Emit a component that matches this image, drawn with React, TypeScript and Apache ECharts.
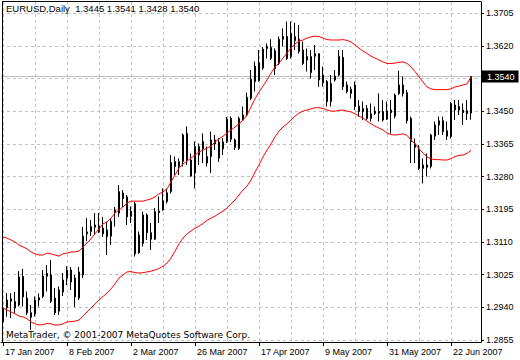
import React, { useEffect, useRef } from "react";
import * as echarts from "echarts";

const symbolName = "EURUSD,Daily";
const copyright = "MetaTrader, © 2001-2007 MetaQuotes Software Corp.";
const startDate = "2007-01-17";
const tickLabels = ["17 Jan 2007", "8 Feb 2007", "2 Mar 2007", "26 Mar 2007", "17 Apr 2007", "9 May 2007", "31 May 2007", "22 Jun 2007"];
const priceTicks = [1.2855, 1.294, 1.3025, 1.311, 1.3195, 1.328, 1.3365, 1.345, 1.3535, 1.362, 1.3705];
const hiddenPriceTick = 1.3535;
const priceMin = 1.28498;
const priceMax = 1.37338;

const opens = [
  1.2938, 1.2939, 1.2962, 1.2955, 1.2946, 1.302, 1.2964, 1.2926, 1.2923, 1.2959,
  1.2968, 1.3028, 1.3024, 1.2964, 1.293, 1.298, 1.3016, 1.3037, 1.3016, 1.2964,
  1.3024, 1.3131, 1.3137, 1.3154, 1.3136, 1.3131, 1.3141, 1.3125, 1.3193, 1.3185,
  1.3237, 1.3227, 1.3176, 1.3209, 1.3082, 1.3106, 1.318, 1.3134, 1.3117, 1.319,
  1.3193, 1.3215, 1.3241, 1.3319, 1.3306, 1.3319, 1.3392, 1.3323, 1.3289, 1.3336,
  1.3371, 1.3315, 1.3332, 1.3375, 1.337, 1.337, 1.3371, 1.3431, 1.3375, 1.3353,
  1.3427, 1.344, 1.3483, 1.3567, 1.3529, 1.3562, 1.3618, 1.3587, 1.3607, 1.3574,
  1.3644, 1.3644, 1.3592, 1.3633, 1.3605, 1.3609, 1.3592, 1.355, 1.3599, 1.3599,
  1.3544, 1.3527, 1.3475, 1.3531, 1.3544, 1.359, 1.3518, 1.3496, 1.3518, 1.3463,
  1.3449, 1.3457, 1.3431, 1.345, 1.3449, 1.3449, 1.3429, 1.3453, 1.3437, 1.3496,
  1.3518, 1.3498, 1.3431, 1.3365, 1.3349, 1.3301, 1.3304, 1.3306, 1.3385, 1.3414,
  1.3425, 1.3399, 1.3384, 1.3466, 1.3462, 1.3453, 1.3451, 1.3445,
];
const highs = [
  1.2946, 1.2977, 1.2977, 1.298, 1.3034, 1.304, 1.2981, 1.2946, 1.2968, 1.2976,
  1.3037, 1.305, 1.3063, 1.299, 1.2994, 1.3029, 1.3047, 1.3045, 1.3024, 1.3045,
  1.3149, 1.3172, 1.3167, 1.3185, 1.3185, 1.3175, 1.3162, 1.3172, 1.3201, 1.3258,
  1.3245, 1.3232, 1.3202, 1.3215, 1.3137, 1.3189, 1.3184, 1.3159, 1.3198, 1.3228,
  1.3249, 1.3249, 1.3336, 1.3332, 1.3327, 1.3392, 1.341, 1.334, 1.3371, 1.3366,
  1.3392, 1.3358, 1.3397, 1.3388, 1.338, 1.338, 1.3435, 1.3436, 1.3379, 1.3436,
  1.3462, 1.3498, 1.3557, 1.3579, 1.3609, 1.3617, 1.3626, 1.3637, 1.3613, 1.3644,
  1.3665, 1.3683, 1.3683, 1.368, 1.3674, 1.3631, 1.3613, 1.3609, 1.3622, 1.3601,
  1.3566, 1.3531, 1.3544, 1.3557, 1.3609, 1.3609, 1.3527, 1.3514, 1.3527, 1.3479,
  1.3475, 1.3466, 1.347, 1.3462, 1.3496, 1.3479, 1.3475, 1.3479, 1.3496, 1.3555,
  1.354, 1.3505, 1.3436, 1.3379, 1.3362, 1.3327, 1.334, 1.3391, 1.3423, 1.3436,
  1.3436, 1.3423, 1.3474, 1.3479, 1.3479, 1.347, 1.3479, 1.3541,
];
const lows = [
  1.2889, 1.2915, 1.2912, 1.2925, 1.2942, 1.2942, 1.292, 1.2881, 1.2916, 1.2942,
  1.2964, 1.2981, 1.2951, 1.292, 1.292, 1.2969, 1.2998, 1.2985, 1.2941, 1.2959,
  1.3016, 1.3112, 1.3125, 1.3128, 1.3133, 1.3123, 1.3076, 1.3102, 1.315, 1.3175,
  1.3201, 1.3154, 1.3159, 1.3072, 1.3079, 1.3098, 1.3115, 1.3089, 1.3115, 1.3159,
  1.3191, 1.321, 1.3236, 1.3284, 1.3284, 1.3306, 1.331, 1.328, 1.3249, 1.331,
  1.3315, 1.3306, 1.3289, 1.3349, 1.3318, 1.3336, 1.3367, 1.337, 1.3349, 1.3349,
  1.3424, 1.3436, 1.3479, 1.3501, 1.3527, 1.3557, 1.3587, 1.3583, 1.3544, 1.357,
  1.3618, 1.3583, 1.3587, 1.3609, 1.36, 1.357, 1.3553, 1.3535, 1.3557, 1.3513,
  1.3514, 1.3462, 1.3462, 1.3527, 1.354, 1.3505, 1.3496, 1.3483, 1.3453, 1.3436,
  1.3427, 1.3427, 1.3423, 1.344, 1.3423, 1.3423, 1.3427, 1.3392, 1.3431, 1.3492,
  1.3488, 1.3418, 1.3315, 1.3315, 1.3297, 1.3262, 1.328, 1.3301, 1.3375, 1.3388,
  1.3388, 1.3375, 1.3379, 1.3427, 1.344, 1.3414, 1.3427, 1.3428,
];
const closes = [
  1.2902, 1.2959, 1.2956, 1.2938, 1.3019, 1.2967, 1.2926, 1.2914, 1.2959, 1.2965,
  1.3021, 1.3021, 1.2956, 1.2926, 1.2985, 1.3011, 1.3037, 1.3006, 1.2967, 1.3032,
  1.3125, 1.3136, 1.315, 1.3148, 1.3151, 1.3146, 1.3124, 1.3164, 1.3189, 1.3241,
  1.3223, 1.3175, 1.319, 1.3079, 1.3128, 1.318, 1.3134, 1.3117, 1.3189, 1.3186,
  1.3217, 1.3238, 1.3316, 1.3306, 1.3319, 1.3388, 1.3323, 1.3281, 1.3358, 1.3358,
  1.3353, 1.3332, 1.3375, 1.3365, 1.3328, 1.3352, 1.3429, 1.3377, 1.3356, 1.3431,
  1.344, 1.3486, 1.3533, 1.3527, 1.3576, 1.3611, 1.3613, 1.3616, 1.3561, 1.3637,
  1.3637, 1.3587, 1.3652, 1.3644, 1.3637, 1.3574, 1.3583, 1.3592, 1.3593, 1.3531,
  1.3524, 1.3475, 1.3522, 1.3541, 1.3593, 1.3514, 1.3501, 1.3507, 1.3462, 1.3449,
  1.3457, 1.3431, 1.3443, 1.3444, 1.3445, 1.3427, 1.3451, 1.3446, 1.3492, 1.3518,
  1.3496, 1.3425, 1.3371, 1.3356, 1.3301, 1.331, 1.331, 1.3388, 1.3414, 1.3425,
  1.3397, 1.3385, 1.347, 1.3453, 1.3453, 1.3446, 1.3444, 1.354,
];
const upperEnvelope = [
  1.3123, 1.312, 1.3115, 1.311, 1.3102, 1.3097, 1.3092, 1.3084, 1.3079, 1.3076,
  1.3076, 1.3081, 1.3079, 1.3076, 1.3073, 1.3079, 1.3081, 1.3084, 1.3084, 1.3086,
  1.3097, 1.3107, 1.3118, 1.3131, 1.3144, 1.3157, 1.3162, 1.3172, 1.3185, 1.3193,
  1.3201, 1.3211, 1.3216, 1.3216, 1.3216, 1.3216, 1.3219, 1.3222, 1.3227, 1.3235,
  1.324, 1.3248, 1.3266, 1.3284, 1.3302, 1.3313, 1.332, 1.3328, 1.3336, 1.3344,
  1.3349, 1.3354, 1.3359, 1.337, 1.3378, 1.3385, 1.3393, 1.3401, 1.3409, 1.3417,
  1.3427, 1.344, 1.3461, 1.3482, 1.35, 1.3515, 1.3531, 1.3549, 1.3565, 1.3575,
  1.3588, 1.3601, 1.3614, 1.3625, 1.3632, 1.3635, 1.364, 1.3643, 1.3645, 1.3644,
  1.364, 1.3636, 1.3635, 1.3635, 1.3635, 1.3636, 1.3634, 1.363, 1.3622, 1.3614,
  1.3606, 1.36, 1.3593, 1.3588, 1.3583, 1.3578, 1.3574, 1.3574, 1.3575, 1.3577,
  1.3578, 1.3574, 1.3565, 1.3553, 1.3539, 1.3526, 1.3513, 1.3508, 1.3506, 1.3506,
  1.3506, 1.3506, 1.3508, 1.3513, 1.3515, 1.3518, 1.3521, 1.3539,
];
const lowerEnvelope = [
  1.2938, 1.2933, 1.2928, 1.2923, 1.2917, 1.2915, 1.291, 1.2902, 1.2897, 1.2894,
  1.2895, 1.2898, 1.2897, 1.2894, 1.2894, 1.2897, 1.2902, 1.2903, 1.2904, 1.2907,
  1.2917, 1.2928, 1.2938, 1.2949, 1.2959, 1.2968, 1.2977, 1.2988, 1.3001, 1.3016,
  1.3024, 1.3032, 1.3033, 1.303, 1.3029, 1.303, 1.3032, 1.3034, 1.3037, 1.3041,
  1.3047, 1.3055, 1.3068, 1.3086, 1.3105, 1.312, 1.3131, 1.3138, 1.3146, 1.3151,
  1.3158, 1.3166, 1.3172, 1.3177, 1.3184, 1.319, 1.3198, 1.3209, 1.3219, 1.3232,
  1.3245, 1.3255, 1.3271, 1.3292, 1.331, 1.3331, 1.3349, 1.3365, 1.3383, 1.3398,
  1.3409, 1.3417, 1.3427, 1.3437, 1.3445, 1.345, 1.3453, 1.3456, 1.3459, 1.3459,
  1.3457, 1.3453, 1.345, 1.345, 1.3452, 1.3453, 1.345, 1.3448, 1.3443, 1.3437,
  1.3432, 1.3424, 1.3417, 1.3411, 1.3406, 1.3401, 1.3393, 1.3389, 1.3388, 1.3389,
  1.3391, 1.3387, 1.3375, 1.3365, 1.3352, 1.3341, 1.3331, 1.3326, 1.3324, 1.3324,
  1.3323, 1.3323, 1.3327, 1.3332, 1.3335, 1.3336, 1.334, 1.3348,
];

const MONTHS = ["Jan", "Feb", "Mar", "Apr", "May", "Jun", "Jul", "Aug", "Sep", "Oct", "Nov", "Dec"];
function tradingDays(start: string, n: number): string[] {
  const out: string[] = [];
  const d = new Date(start + "T00:00:00Z");
  while (out.length < n) {
    const wd = d.getUTCDay();
    if (wd !== 0 && wd !== 6) {
      out.push(`${d.getUTCDate()} ${MONTHS[d.getUTCMonth()]} ${d.getUTCFullYear()}`);
    }
    d.setUTCDate(d.getUTCDate() + 1);
  }
  return out;
}

const FONT = '"Liberation Sans", Arial, sans-serif';
const FONT_WIDE = '"DejaVu Sans", Verdana, sans-serif';

export default function App() {
  const ref = useRef<HTMLDivElement>(null);
  useEffect(() => {
    if (!ref.current) return;
    const chart = echarts.init(ref.current, undefined, { renderer: "svg" });
    const categories = [...tradingDays(startDate, opens.length), " ", "  "];
    const candles = opens.map((o, i) => [o, closes[i], lows[i], highs[i]]);
    const last = opens.length - 1;
    const f4 = (v: number) => v.toFixed(4);
    const header = `${symbolName}  ${f4(opens[last])} ${f4(highs[last])} ${f4(lows[last])} ${f4(closes[last])}`;
    const isTick = (_i: number, v: string) => tickLabels.includes(v);

    chart.setOption({
      animation: false,
      backgroundColor: "#ffffff",
      textStyle: { fontFamily: FONT },
      grid: { left: 1, right: 39, top: 2, bottom: 18, outerBoundsMode: "none" },
      xAxis: {
        type: "category",
        data: categories,
        boundaryGap: true,
        axisLine: { show: true, lineStyle: { color: "#000", width: 1 } },
        axisTick: { show: true, alignWithLabel: true, interval: isTick, length: 4, lineStyle: { color: "#000" } },
        axisLabel: {
          interval: isTick,
          align: "left",
          margin: 5,
          color: "#000",
          fontSize: 9,
          fontFamily: FONT,
          padding: [0, 0, 0, 2],
        },
        splitLine: {
          show: true,
          interval: 7,
          alignWithLabel: true,
          lineStyle: { color: "#c0c0c0", type: [3, 3], width: 1 },
        },
      },
      yAxis: {
        type: "value",
        position: "right",
        min: priceMin,
        max: priceMax,
        axisLine: { show: true, lineStyle: { color: "#000", width: 1 } },
        axisTick: { show: true, customValues: priceTicks, length: 3, lineStyle: { color: "#000" } },
        axisLabel: {
          customValues: priceTicks.filter((v) => v !== hiddenPriceTick),
          formatter: (v: number) => v.toFixed(4),
          color: "#000",
          fontSize: 9,
          fontFamily: FONT,
          margin: 5,
        },
        splitLine: { show: true, lineStyle: { color: "#c0c0c0", type: [3, 3], width: 1 } },
      },
      series: [
        {
          type: "candlestick",
          data: candles,
          barWidth: 2,
          itemStyle: {
            color: "#ffffff",
            color0: "#000000",
            borderColor: "#000000",
            borderColor0: "#000000",
            borderWidth: 1,
          },
        },
        {
          type: "line",
          data: upperEnvelope,
          showSymbol: false,
          symbol: "none",
          lineStyle: { color: "#ff0000", width: 1 },
          z: 3,
          markLine: {
            silent: true,
            precision: 4,
            symbol: ["none", "none"],
            data: [{ yAxis: closes[last] }],
            lineStyle: { color: "#c0c0c0", type: "solid", width: 1 },
            label: {
              show: true,
              position: "end",
              formatter: () => f4(closes[last]),
              color: "#fff",
              backgroundColor: "#000",
              fontSize: 9,
              fontFamily: FONT,
              padding: [2, 4, 1, 5],
              distance: 1,
            },
            z: 1,
          },
        },
        {
          type: "line",
          data: lowerEnvelope,
          showSymbol: false,
          symbol: "none",
          lineStyle: { color: "#ff0000", width: 1 },
          z: 3,
        },
      ],
      graphic: [
        { type: "line", shape: { x1: 2.5, y1: 1.5, x2: 2.5, y2: 342 }, style: { stroke: "#000", lineWidth: 1 }, z: 10 },
        { type: "line", shape: { x1: 2, y1: 1.5, x2: 481, y2: 1.5 }, style: { stroke: "#000", lineWidth: 1 }, z: 10 },
        {
          type: "text",
          left: 6,
          top: 3,
          z: 10,
          style: { text: header, fill: "#000", fontSize: 9.5, fontFamily: FONT },
        },
        {
          type: "text",
          left: 6,
          top: 330,
          z: 10,
          style: { text: copyright, fill: "#000", fontSize: 9, fontFamily: FONT_WIDE },
        },
      ],
    });
    return () => chart.dispose();
  }, []);
  return (
    <div
      ref={ref}
      style={{ position: "absolute", left: 0, top: 0, width: 520, height: 360, background: "#fff" }}
    />
  );
}
